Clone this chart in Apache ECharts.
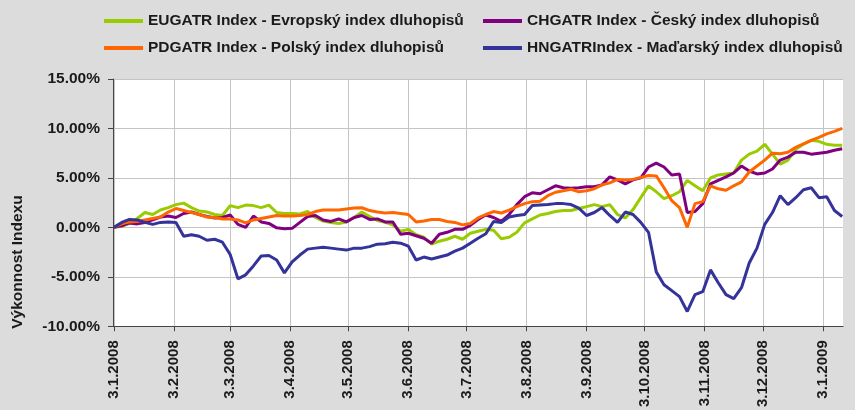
<!DOCTYPE html>
<html><head><meta charset="utf-8">
<script src="https://cdn.jsdelivr.net/npm/echarts@6/dist/echarts.min.js"></script>
<style>html,body{margin:0;padding:0;background:#dcdcdc;} #c{width:855px;height:410px;}</style>
</head><body><div id="c"></div>
<script>
const dates = [
'2008-01-03','2008-01-07','2008-01-11','2008-01-15','2008-01-19','2008-01-23','2008-01-27','2008-01-31',
'2008-02-04','2008-02-08','2008-02-12','2008-02-16','2008-02-20','2008-02-24','2008-02-28',
'2008-03-03','2008-03-07','2008-03-11','2008-03-15','2008-03-19','2008-03-23','2008-03-27','2008-03-31',
'2008-04-04','2008-04-08','2008-04-12','2008-04-16','2008-04-20','2008-04-24','2008-04-28',
'2008-05-02','2008-05-06','2008-05-10','2008-05-14','2008-05-18','2008-05-22','2008-05-26','2008-05-30',
'2008-06-03','2008-06-07','2008-06-11','2008-06-15','2008-06-19','2008-06-23','2008-06-27',
'2008-07-01','2008-07-05','2008-07-09','2008-07-13','2008-07-17','2008-07-21','2008-07-25','2008-07-29',
'2008-08-02','2008-08-06','2008-08-10','2008-08-14','2008-08-18','2008-08-22','2008-08-26','2008-08-30',
'2008-09-03','2008-09-07','2008-09-11','2008-09-15','2008-09-19','2008-09-23','2008-09-27',
'2008-10-01','2008-10-05','2008-10-09','2008-10-13','2008-10-17','2008-10-21','2008-10-25','2008-10-29',
'2008-11-02','2008-11-06','2008-11-10','2008-11-14','2008-11-18','2008-11-22','2008-11-26','2008-11-30',
'2008-12-04','2008-12-08','2008-12-12','2008-12-16','2008-12-20','2008-12-24','2008-12-28',
'2009-01-01','2009-01-05','2009-01-09','2009-01-13'];

const tickLabels = ['3.1.2008','3.2.2008','3.3.2008','3.4.2008','3.5.2008','3.6.2008','3.7.2008',
'3.8.2008','3.9.2008','3.10.2008','3.11.2008','3.12.2008','3.1.2009'];

const seriesNames = [
'EUGATR Index - Evropský index dluhopisů',
'CHGATR Index - Český index dluhopisů',
'PDGATR Index - Polský index dluhopisů',
'HNGATRIndex - Maďarský index dluhopisů'];

const euValues = [0.0,0.1,0.4,0.9,1.5,1.3,1.75,2.0,2.3,2.45,2.0,1.65,1.55,1.3,1.2,2.2,2.0,2.25,2.2,2.0,2.25,1.5,1.4,1.4,1.35,1.6,1.0,0.64,0.5,0.4,0.55,1.0,
1.55,1.1,0.7,0.5,0.25,-0.4,-0.2,-0.75,-1.0,-1.7,-1.4,-1.2,-0.9,-1.2,-0.6,
-0.4,-0.2,-0.3,-1.15,-1.0,-0.5,0.45,0.85,1.25,1.4,1.6,1.7,1.7,1.9,2.1,2.3,
2.1,2.3,1.3,0.95,1.8,3.0,4.2,3.6,2.9,3.2,3.6,4.75,4.2,3.7,5.0,5.3,5.4,5.5,6.8,7.4,7.7,8.4,7.4,6.4,6.8,7.9,8.4,8.8,8.7,8.4,8.3,8.3];

const czValues = [0.0,0.15,0.45,0.35,0.5,0.75,1.05,1.15,1.0,1.4,1.55,1.3,1.1,0.95,1.0,1.25,0.3,0.0,1.15,0.55,0.4,-0.05,-0.15,-0.1,0.5,1.1,1.2,0.75,0.6,0.85,0.55,1.0,
1.2,0.8,0.85,0.55,0.55,-0.7,-0.6,-0.85,-1.1,-1.6,-0.7,-0.5,-0.2,-0.2,0.2,
0.8,1.25,1.0,0.6,1.3,2.3,3.1,3.5,3.4,3.8,4.2,4.0,3.95,4.0,4.1,4.1,
4.3,5.1,4.8,4.4,4.8,5.0,6.1,6.5,6.1,5.3,5.4,1.5,1.6,2.4,4.4,4.75,5.1,5.5,6.2,5.7,5.4,5.5,5.9,6.8,7.1,7.6,7.6,7.4,7.5,7.6,7.8,7.95];

const plValues = [0.0,0.35,0.55,0.6,0.75,0.9,1.05,1.55,1.9,1.7,1.5,1.3,1.05,1.0,0.85,0.85,0.75,0.45,0.75,0.9,1.05,1.2,1.15,1.15,1.2,1.3,1.6,1.75,1.75,1.75,1.85,1.95,
1.98,1.7,1.55,1.45,1.5,1.4,1.3,0.55,0.65,0.8,0.8,0.6,0.5,0.25,0.4,
0.95,1.3,1.6,1.45,1.75,2.1,2.4,2.6,2.65,3.2,3.55,3.7,3.85,3.6,3.7,3.9,
4.3,4.5,4.85,4.8,4.85,5.05,5.25,5.2,4.0,2.7,2.0,0.0,2.4,2.6,4.2,3.9,3.75,4.2,4.6,5.6,6.2,6.8,7.5,7.45,7.6,8.1,8.45,8.8,9.1,9.45,9.7,10.0];

const huValues = [0.0,0.5,0.8,0.75,0.5,0.3,0.5,0.55,0.5,-0.9,-0.75,-0.9,-1.3,-1.2,-1.5,-2.75,-5.2,-4.8,-3.9,-2.9,-2.85,-3.3,-4.6,-3.5,-2.8,-2.2,-2.1,-2.0,-2.1,-2.2,-2.3,-2.1,
-2.1,-1.95,-1.7,-1.65,-1.5,-1.6,-1.9,-3.3,-3.0,-3.2,-3.0,-2.8,-2.4,-2.1,-1.6,
-1.1,-0.65,0.6,0.5,1.05,1.2,1.3,2.2,2.25,2.3,2.4,2.4,2.3,1.95,1.2,1.5,
2.0,1.2,0.5,1.55,1.3,0.5,-0.5,-4.5,-5.8,-6.4,-7.0,-8.5,-6.8,-6.5,-4.3,-5.6,-6.8,-7.2,-6.1,-3.6,-2.1,0.3,1.5,3.2,2.3,3.0,3.8,4.0,3.0,3.1,1.7,1.1];

const colors = ['#99cc00','#800080','#ff6600','#333399'];
const FONT = "'Liberation Sans', Arial, sans-serif";

function parseDMY(s){const p=s.split('.').map(Number);return new Date(p[2],p[1]-1,p[0]).getTime();}
function parseISO(s){const p=s.split('-').map(Number);return new Date(p[0],p[1]-1,p[2]).getTime();}
const tickValues = tickLabels.map(parseDMY);
const xTimes = dates.map(parseISO);
const allValues = [euValues, czValues, plValues, huValues];

const chart = echarts.init(document.getElementById('c'), null, {renderer:'canvas'});
const legendPos = [[104,13],[483,13],[104,40],[483,40]];
chart.setOption({
  backgroundColor:'#dcdcdc',
  animation:false,
  grid:{left:113,right:12,top:79,bottom:82,show:true,backgroundColor:'#ffffff',borderWidth:0},
  legend: seriesNames.map((n,i)=>({
    data:[n], left:legendPos[i][0], top:legendPos[i][1], padding:0,
    icon:'rect', itemWidth:39, itemHeight:4,
    textStyle:{fontFamily:FONT,fontWeight:'bold',fontSize:15.5,color:'#1a1a1a'}
  })),
  xAxis:{
    type:'value',
    min:new Date(2008,0,2,12).getTime(),
    max:new Date(2009,0,13,10).getTime(),
    axisLine:{show:true,onZero:false,lineStyle:{color:'#444',width:1}},
    axisTick:{show:true,customValues:tickValues,length:5,lineStyle:{color:'#444'}},
    axisLabel:{customValues:tickValues,rotate:90,margin:14,
      fontFamily:FONT,fontWeight:'bold',fontSize:15,color:'#1a1a1a',
      formatter:function(v){const i=tickValues.indexOf(v);return i>=0?tickLabels[i]:'';}},
    splitLine:{show:true,lineStyle:{color:'#c4c4c4',width:1}}
  },
  yAxis:{
    type:'value',min:-10,max:15,interval:5,
    axisLine:{show:true,lineStyle:{color:'#444',width:1}},
    axisTick:{show:true,length:5,lineStyle:{color:'#444'}},
    axisLabel:{margin:13,fontFamily:FONT,fontWeight:'bold',fontSize:15.5,color:'#1a1a1a',
      formatter:function(v){return v.toFixed(2)+'%';}},
    splitLine:{show:true,lineStyle:{color:'#c4c4c4',width:1}}
  },
  graphic:[{type:'text',x:18,y:262,rotation:Math.PI/2,
    style:{text:'Výkonnost Indexu',fontFamily:FONT,fontWeight:'bold',fontSize:15.5,fill:'#1a1a1a',
      align:'center',verticalAlign:'middle'}}],
  series: seriesNames.map((n,i)=>({
    name:n,type:'line',symbol:'none',
    data: xTimes.map((t,j)=>[t, allValues[i][j]]),
    lineStyle:{color:colors[i],width:3},
    itemStyle:{color:colors[i]}
  }))
});
</script></body></html>
